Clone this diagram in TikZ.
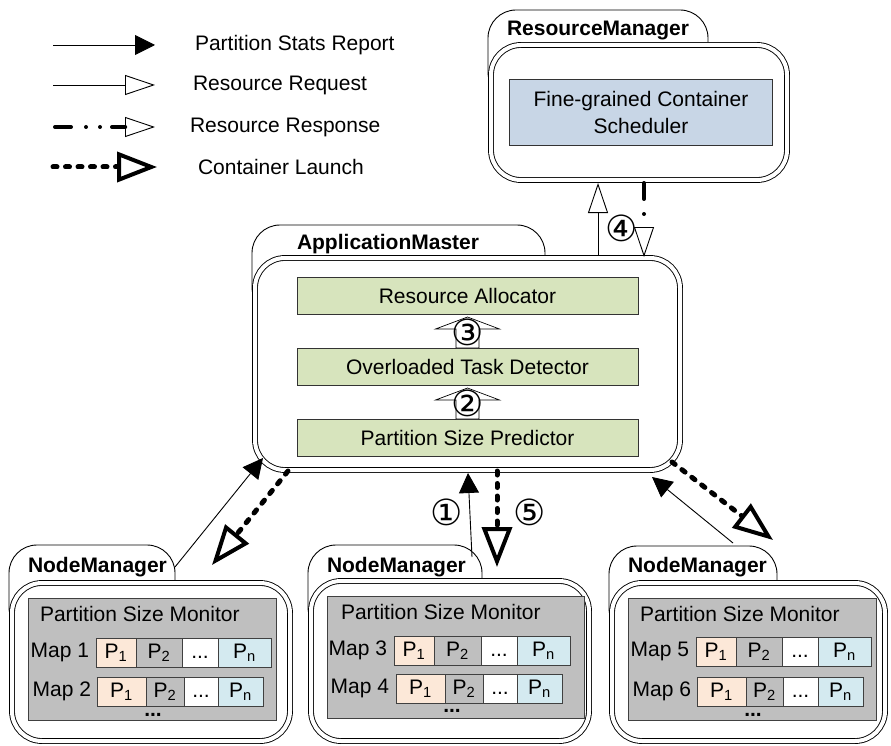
\documentclass[tikz,border=0pt]{standalone}
\usepackage{fontspec}
\setmainfont{Liberation Sans}
\newfontfamily\circfont{DejaVu Sans}
\usepackage{tikz}
\usetikzlibrary{positioning,arrows.meta}

\definecolor{agentgreen}{HTML}{D7E4BD}
\definecolor{schedblue}{HTML}{C8D6E6}
\definecolor{monitorgray}{HTML}{BFBFBF}
\definecolor{firstpart}{HTML}{FCE8D8}
\definecolor{lastpart}{HTML}{D4EAF0}

\begin{document}
\begin{tikzpicture}[
x=1pt, y=1pt,
line width=0.9pt,
every node/.style={font=\fontsize{21}{26}\selectfont, inner sep=0pt, outer sep=0pt},
shell/.style={draw, double, double distance=4pt, fill=white, rounded corners=30pt, anchor=north west},
tab/.style={draw, fill=white, rounded corners=28pt, anchor=north west, minimum height=90pt},
title/.style={anchor=base west, font=\fontsize{21}{26}\selectfont\bfseries},
module/.style={draw=black!80, fill=agentgreen, minimum width=341pt, minimum height=37pt},
monitor/.style={draw=black!75, fill=monitorgray, anchor=north west, minimum height=122pt},
cell/.style={draw=black!75, minimum height=29pt, text height=15pt, text depth=4pt},
num/.style={font=\circfont\fontsize{36}{36}\selectfont},
hollow/.style={draw, fill=white, line width=0.7pt},
stats/.style={-{Triangle[length=20pt,width=20pt]}},
request/.style={-{Triangle[open,length=30pt,width=20pt]}},
response/.style={-{Triangle[open,length=30pt,width=20pt,line width=0.9pt]},
  line width=4pt, line cap=round, dash pattern=on 16pt off 15pt on 0pt off 14pt on 0pt off 12pt},
launch/.style={-{Triangle[open,length=40pt,width=30pt,line width=4pt]},
  line width=5pt, line cap=round, dash pattern=on 4pt off 8.5pt}
]
\useasboundingbox (0,0) rectangle (891,-746);

% legend
\coordinate (psr0) at (53,-45);
\coordinate (psr1) at (155,-45);
\coordinate (req0) at (53,-85);
\coordinate (req1) at (155,-85);
\coordinate (rsp0) at (55,-127);
\coordinate (rsp1) at (155,-127);
\coordinate (cl0) at (53,-167);
\coordinate (cl1) at (157,-167);
\draw[stats] (psr0) -- (psr1);
\draw[request] (req0) -- (req1);
\draw[response] (rsp0) -- (rsp1);
\draw[launch] (cl0) -- (cl1);
\node[anchor=west] (psrkey) at (195,-45) {Partition Stats Report};
\node[anchor=west] (reqkey) at (193,-85) {Resource Request};
\node[anchor=west] (rspkey) at (190,-127) {Resource Response};
\node[anchor=west] (clkey) at (198,-167) {Container Launch};

% ResourceManager
\node[tab, minimum width=220pt] (rmtab) at (488,-10) {};
\node[shell, minimum width=296pt, minimum height=135pt] (rm) at ([shift={(3pt,-35pt)}]rmtab.north west) {};
\node[title] (rmtitle) at ([shift={(19pt,-26pt)}]rmtab.north west) {ResourceManager};
\node[draw=black!80, fill=schedblue, minimum width=263pt, minimum height=66pt, align=center,
  font=\fontsize{21}{27}\selectfont] (fcs) at ([xshift=2pt]rm.center) {Fine-grained Container\\Scheduler};

% ApplicationMaster
\node[tab, minimum width=293pt] (amtab) at (252,-225) {};
\node[shell, minimum width=425pt, minimum height=212pt] (am) at ([shift={(3pt,-33pt)}]amtab.north west) {};
\node[title] (amtitle) at ([shift={(45pt,-24pt)}]amtab.north west) {ApplicationMaster};
\node[module, above=14pt of am.south] (psp) {Partition Size Predictor};
\node[module, above=34pt of psp] (otd) {Overloaded Task Detector};
\node[module, above=34pt of otd] (ra) {Resource Allocator};

\draw[hollow] ([xshift=-11.5pt]psp.north) -- ++(0,19) -- ++(-20.5,0) -- ([yshift=-3pt]otd.south)
  -- ([shift={(32pt,19pt)}]psp.north) -- ++(-20.5,0) -- ++(0,-19) -- cycle;
\node[num] (n2) at ([yshift=16pt]psp.north) {②};
\draw[hollow] ([xshift=-11.5pt]otd.north) -- ++(0,19) -- ++(-20.5,0) -- ([yshift=-3pt]ra.south)
  -- ([shift={(32pt,19pt)}]otd.north) -- ++(-20.5,0) -- ++(0,-19) -- cycle;
\node[num] (n3) at ([yshift=16pt]otd.north) {③};

% NodeManager 1
\node[tab, minimum width=166pt] (nm1tab) at (9,-545) {};
\node[shell, minimum width=278pt, minimum height=158pt] (nm1) at ([shift={(3pt,-38pt)}]nm1tab.north west) {};
\node[title] (nm1title) at ([shift={(19pt,-27pt)}]nm1tab.north west) {NodeManager};
\node[monitor, minimum width=248pt] (mon1) at ([shift={(16pt,-15pt)}]nm1.north west) {};
\node[anchor=base west] (mon1title) at ([shift={(12pt,-23pt)}]mon1.north west) {Partition Size Monitor};
\node[cell, fill=firstpart, anchor=north west, minimum width=40pt] (p11) at ([shift={(68pt,-40pt)}]mon1.north west) {P\textsubscript{1}};
\node[cell, fill=monitorgray, right=0pt of p11, minimum width=46pt] (p12) {P\textsubscript{2}};
\node[cell, fill=white, right=0pt of p12, minimum width=36pt] (p13) {...};
\node[cell, fill=lastpart, right=0pt of p13, minimum width=53pt] (p1n) {P\textsubscript{n}};
\node[left=7pt of p11] (map1) {Map 1};
\node[cell, fill=firstpart, anchor=north west, minimum width=49pt] (p21) at ([shift={(69pt,-79pt)}]mon1.north west) {P\textsubscript{1}};
\node[cell, fill=monitorgray, right=0pt of p21, minimum width=38pt] (p22) {P\textsubscript{2}};
\node[cell, fill=white, right=0pt of p22, minimum width=34pt] (p23) {...};
\node[cell, fill=lastpart, right=0pt of p23, minimum width=45pt] (p2n) {P\textsubscript{n}};
\node[left=6pt of p21] (map2) {Map 2};
\node[anchor=base] (more1) at ([shift={(125pt,-118pt)}]mon1.north west) {\textbf{...}};

% NodeManager 2
\node[tab, minimum width=174pt] (nm2tab) at (308,-545) {};
\node[shell, minimum width=278pt, minimum height=160pt] (nm2) at ([shift={(3pt,-36pt)}]nm2tab.north west) {};
\node[title] (nm2title) at ([shift={(19pt,-27pt)}]nm2tab.north west) {NodeManager};
\node[monitor, minimum width=257pt] (mon2) at ([shift={(16pt,-15pt)}]nm2.north west) {};
\node[anchor=base west] (mon2title) at ([shift={(14pt,-23pt)}]mon2.north west) {Partition Size Monitor};
\node[cell, fill=firstpart, anchor=north west, minimum width=40pt] (p31) at ([shift={(67pt,-40pt)}]mon2.north west) {P\textsubscript{1}};
\node[cell, fill=monitorgray, right=0pt of p31, minimum width=47pt] (p32) {P\textsubscript{2}};
\node[cell, fill=white, right=0pt of p32, minimum width=36pt] (p33) {...};
\node[cell, fill=lastpart, right=0pt of p33, minimum width=53pt] (p3n) {P\textsubscript{n}};
\node[left=7pt of p31] (map3) {Map 3};
\node[cell, fill=firstpart, anchor=north west, minimum width=49pt] (p41) at ([shift={(69pt,-78pt)}]mon2.north west) {P\textsubscript{1}};
\node[cell, fill=monitorgray, right=0pt of p41, minimum width=38pt] (p42) {P\textsubscript{2}};
\node[cell, fill=white, right=0pt of p42, minimum width=34pt] (p43) {...};
\node[cell, fill=lastpart, right=0pt of p43, minimum width=45pt] (p4n) {P\textsubscript{n}};
\node[left=7pt of p41] (map4) {Map 4};
\node[anchor=base] (more2) at ([shift={(125pt,-116pt)}]mon2.north west) {\textbf{...}};

% NodeManager 3
\node[tab, minimum width=168pt] (nm3tab) at (609,-546) {};
\node[shell, minimum width=273pt, minimum height=158pt] (nm3) at ([shift={(3pt,-37pt)}]nm3tab.north west) {};
\node[title] (nm3title) at ([shift={(19pt,-26pt)}]nm3tab.north west) {NodeManager};
\node[monitor, minimum width=248pt] (mon3) at ([shift={(16pt,-15pt)}]nm3.north west) {};
\node[anchor=base west] (mon3title) at ([shift={(12pt,-23pt)}]mon3.north west) {Partition Size Monitor};
\node[cell, fill=firstpart, anchor=north west, minimum width=40pt] (p51) at ([shift={(68pt,-39pt)}]mon3.north west) {P\textsubscript{1}};
\node[cell, fill=monitorgray, right=0pt of p51, minimum width=46pt] (p52) {P\textsubscript{2}};
\node[cell, fill=white, right=0pt of p52, minimum width=36pt] (p53) {...};
\node[cell, fill=lastpart, right=0pt of p53, minimum width=53pt] (p5n) {P\textsubscript{n}};
\node[left=7pt of p51] (map5) {Map 5};
\node[cell, fill=firstpart, anchor=north west, minimum width=49pt] (p61) at ([shift={(69pt,-79pt)}]mon3.north west) {P\textsubscript{1}};
\node[cell, fill=monitorgray, right=0pt of p61, minimum width=37pt] (p62) {P\textsubscript{2}};
\node[cell, fill=white, right=0pt of p62, minimum width=35pt] (p63) {...};
\node[cell, fill=lastpart, right=0pt of p63, minimum width=45pt] (p6n) {P\textsubscript{n}};
\node[left=6pt of p61] (map6) {Map 6};
\node[anchor=base] (more3) at ([shift={(125pt,-118pt)}]mon3.north west) {\textbf{...}};

% requests between RM and AM
\draw[request] ([shift={(130.5pt,3pt)}]am.north) -- ([shift={(-41pt,-3pt)}]rm.south);
\draw[response] ([shift={(5pt,-3pt)}]rm.south) -- node[num, pos=0.61, left=6pt] (n4) {④}
  ([shift={(176.5pt,1pt)}]am.north);

% reports and launches between NMs and AM
\draw[stats] ([yshift=-22pt]nm1tab.north east) -- ([shift={(8pt,12pt)}]am.south west);
\draw[launch] ([shift={(33pt,-1pt)}]am.south west) -- ([shift={(37pt,-20pt)}]nm1tab.north east);
\draw[stats] ([shift={(-10pt,-12pt)}]nm2tab.north east) -- node[num, pos=0.53, left=7pt] (n1) {①}
  ([shift={(0.5pt,-3pt)}]am.south);
\draw[launch] ([shift={(29.5pt,-1pt)}]am.south) -- node[num, pos=0.43, right=16pt] (n5) {⑤}
  ([shift={(15pt,-22pt)}]nm2tab.north east);
\draw[stats] ([shift={(-44pt,3pt)}]nm3tab.north east) -- ([shift={(-28pt,-7pt)}]am.south east);
\draw[launch] ([shift={(-8pt,8pt)}]am.south east) -- ([shift={(-4pt,6pt)}]nm3tab.north east);

\end{tikzpicture}
\end{document}
